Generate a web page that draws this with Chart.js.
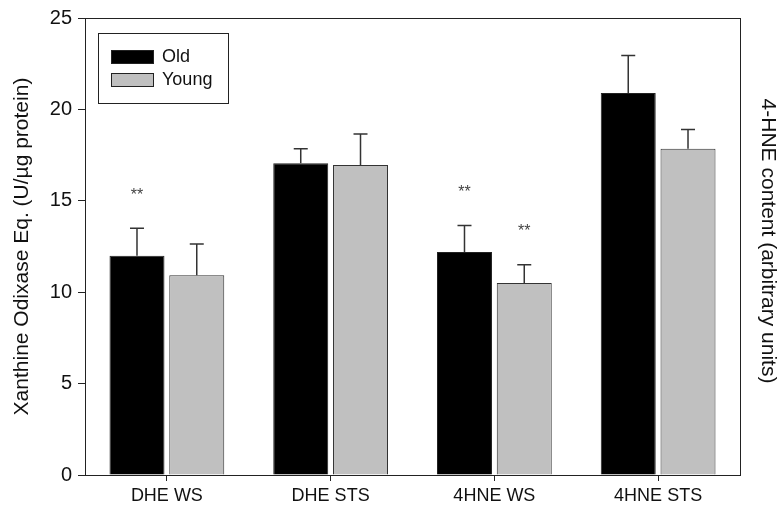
<!DOCTYPE html>
<html>
<head>
<meta charset="utf-8">
<script src="https://cdn.jsdelivr.net/npm/chart.js@4"></script>
<style>
  html, body { margin: 0; padding: 0; background: #fff; }
  #wrap { width: 783px; height: 512px; }
</style>
</head>
<body>
<div id="wrap"><canvas id="xoChart" width="783" height="512"></canvas></div>
<script>
// data
const categories = ["DHE WS", "DHE STS", "4HNE WS", "4HNE STS"];
const oldValues = [12.0, 17.05, 12.2, 20.9];
const youngValues = [10.93, 16.96, 10.5, 17.85];
const oldErrors = [1.5, 0.8, 1.45, 2.05];
const youngErrors = [1.7, 1.7, 1.0, 1.05];
const oldSig = ["**", "", "**", ""];
const youngSig = ["", "", "**", ""];
const yTicks = [0, 5, 10, 15, 20, 25];

const errors = [oldErrors, youngErrors];
const sigMarks = [oldSig, youngSig];

// frame, error bars, asterisks, right title, legend box
const extras = {
  id: "extras",
  afterDatasetsDraw(chart) {
    const ctx = chart.ctx;
    const area = chart.chartArea;
    const y = chart.scales.y;

    ctx.save();
    ctx.strokeStyle = "#333";
    ctx.lineWidth = 1.5;
    chart.data.datasets.forEach((ds, i) => {
      const meta = chart.getDatasetMeta(i);
      meta.data.forEach((bar, j) => {
        const top = y.getPixelForValue(ds.data[j] + errors[i][j]);
        ctx.beginPath();
        ctx.moveTo(bar.x, bar.y);
        ctx.lineTo(bar.x, top);
        ctx.moveTo(bar.x - 7, top);
        ctx.lineTo(bar.x + 7, top);
        ctx.stroke();

        if (sigMarks[i][j]) {
          ctx.fillStyle = "#444";
          ctx.font = "16px 'Liberation Sans', Arial, sans-serif";
          ctx.textAlign = "center";
          ctx.textBaseline = "middle";
          ctx.fillText(sigMarks[i][j], bar.x, top - 33);
        }
      });
    });

    // plot frame
    ctx.strokeStyle = "#222";
    ctx.lineWidth = 1;
    ctx.strokeRect(area.left + 0.5, area.top + 0.5, area.right - area.left, area.bottom - area.top);

    // right-hand title
    ctx.fillStyle = "#111";
    ctx.font = "21px 'Liberation Sans', Arial, sans-serif";
    ctx.textAlign = "center";
    ctx.textBaseline = "middle";
    ctx.translate(768, 241);
    ctx.rotate(Math.PI / 2);
    ctx.fillText("4-HNE content (arbitrary units)", 0, 0);
    ctx.restore();

    // legend
    ctx.save();
    ctx.strokeStyle = "#222";
    ctx.lineWidth = 1;
    ctx.fillStyle = "#fff";
    ctx.fillRect(98.5, 33.5, 130, 70);
    ctx.strokeRect(98.5, 33.5, 130, 70);
    ctx.font = "18px 'Liberation Sans', Arial, sans-serif";
    ctx.textBaseline = "middle";
    chart.data.datasets.forEach((ds, i) => {
      const yy = 50 + i * 23;
      ctx.fillStyle = ds.backgroundColor;
      ctx.fillRect(111.5, yy + 0.5, 42, 13);
      ctx.strokeStyle = "#222";
      ctx.strokeRect(111.5, yy + 0.5, 42, 13);
      ctx.fillStyle = "#111";
      ctx.textAlign = "left";
      ctx.fillText(ds.label, 162, yy + 7);
    });
    ctx.restore();
  }
};

new Chart(document.getElementById("xoChart"), {
  type: "bar",
  data: {
    labels: categories,
    datasets: [
      {
        label: "Old",
        data: oldValues,
        backgroundColor: "#000000",
        borderColor: "#222",
        borderWidth: 1
      },
      {
        label: "Young",
        data: youngValues,
        backgroundColor: "#c0c0c0",
        borderColor: "#333",
        borderWidth: 1
      }
    ]
  },
  options: {
    responsive: false,
    animation: false,
    categoryPercentage: 0.73,
    barPercentage: 0.92,
    layout: { padding: { top: 17, right: 43, left: 0, bottom: 0 } },
    plugins: {
      legend: { display: false },
      tooltip: { enabled: false }
    },
    scales: {
      x: {
        afterFit: (s) => { s.height = 37; },
        grid: { offset: false, drawOnChartArea: false, drawTicks: true, tickLength: 6, color: "#222" },
        border: { display: false },
        ticks: {
          color: "#111",
          padding: 4,
          font: { family: "'Liberation Sans', Arial", size: 18 }
        }
      },
      y: {
        min: 0,
        max: 25,
        afterFit: (s) => { s.width = 85; },
        afterBuildTicks: (s) => { s.ticks = yTicks.map((v) => ({ value: v })); },
        grid: { drawOnChartArea: false, drawTicks: true, tickLength: 7, color: "#222" },
        border: { display: false },
        ticks: {
          color: "#111",
          padding: 6,
          font: { family: "'Liberation Sans', Arial", size: 20 }
        },
        title: {
          display: true,
          text: "Xanthine Odixase Eq. (U/\u00b5g protein)",
          color: "#111",
          padding: { top: 10, bottom: 0 },
          font: { family: "'Liberation Sans', Arial", size: 21 }
        }
      }
    }
  },
  plugins: [extras]
});
</script>
</body>
</html>
